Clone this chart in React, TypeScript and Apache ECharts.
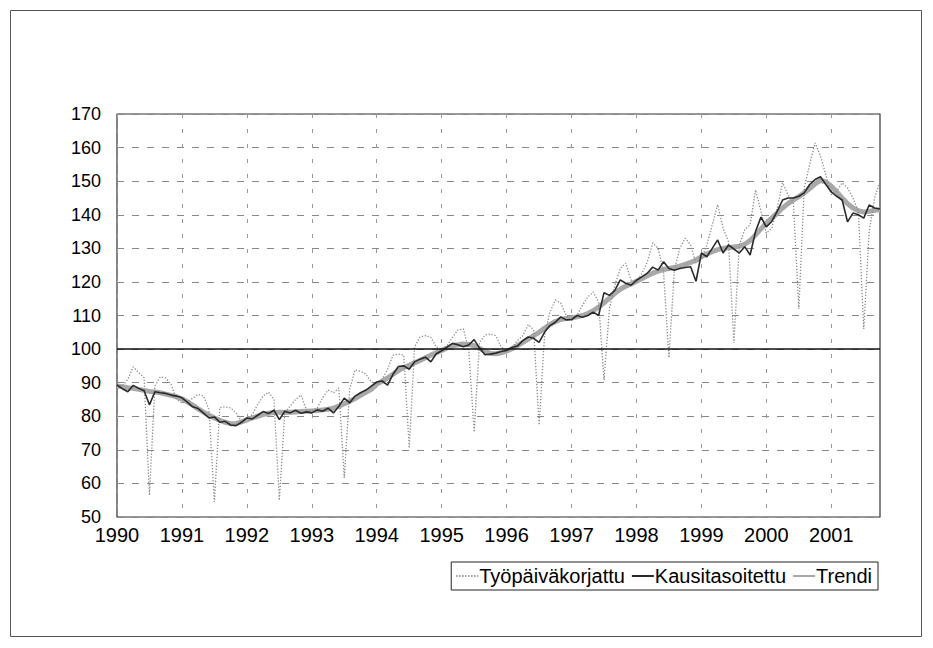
import React, { useEffect, useRef } from "react";
import * as echarts from "echarts";

const years = ["1990","1991","1992","1993","1994","1995","1996","1997","1998","1999","2000","2001"];
const months = ["01","02","03","04","05","06","07","08","09","10","11","12"];
const categories: string[] = [];
years.forEach((y) => months.forEach((m) => categories.push(y + "-" + m)));
categories.splice(142);

const yTicks = [50, 170, 10];

const tyopaiva = [
  89.3, 89.0, 91.0, 94.7, 93.0, 91.5, 56.5, 89.0, 91.7, 91.4, 89.5, 85.0,
  84.0, 84.3, 85.4, 86.5, 86.0, 82.0, 54.5, 82.6, 82.8, 82.5, 81.0, 78.5,
  79.5, 80.5, 83.5, 86.0, 87.2, 85.0, 55.0, 81.0, 83.0, 85.0, 86.3, 82.0,
  81.5, 82.5, 85.5, 87.8, 87.0, 88.4, 61.6, 88.0, 93.8, 93.4, 92.5, 90.2,
  89.5, 91.0, 94.0, 98.2, 98.5, 98.2, 70.5, 100.6, 103.6, 104.0, 103.5, 100.6,
  100.0, 101.0, 103.5, 105.7, 106.0, 100.0, 75.3, 102.0, 104.2, 104.5, 104.0, 100.6,
  99.5, 100.5, 102.5, 104.0, 107.3, 105.7, 77.4, 104.0, 111.0, 114.6, 113.7, 110.0,
  108.5, 110.0, 113.0, 115.5, 117.0, 114.0, 90.8, 112.0, 119.0, 124.0, 125.6, 120.5,
  120.0, 122.5, 126.0, 131.6, 130.0, 123.0, 97.4, 123.5, 130.0, 133.0, 131.0, 125.6,
  127.0, 131.0, 137.0, 143.0, 136.0, 132.0, 101.8, 131.0, 135.5, 137.0, 147.4, 141.0,
  134.5, 136.0, 142.0, 149.5, 146.0, 143.5, 112.0, 148.0, 155.0, 161.4, 157.5, 151.8,
  146.0, 147.0, 149.5, 148.0, 145.0, 141.0, 106.0, 135.0, 145.0, 149.8,
];

const kausi = [
  89.3, 88.2, 87.3, 89.2, 88.3, 87.6, 83.4, 87.3, 87.0, 86.8, 86.3, 86.0,
  85.5, 84.2, 82.8, 82.3, 80.9, 79.5, 79.8, 78.2, 78.5, 77.4, 77.2, 78.2,
  79.5, 79.2, 80.3, 81.4, 80.8, 81.8, 79.0, 81.5, 81.0, 81.8, 80.9, 81.3,
  81.0, 81.9, 81.5, 82.4, 81.0, 83.0, 85.4, 84.0, 86.0, 87.0, 87.8, 89.0,
  90.2, 90.5, 89.3, 92.5, 94.8, 95.0, 94.0, 96.2, 97.0, 97.6, 96.2, 98.6,
  99.5, 100.6, 101.7, 101.3, 100.7, 101.2, 102.8, 100.3, 98.3, 98.5, 98.8, 99.3,
  99.6, 100.5, 100.9, 102.5, 103.6, 103.2, 102.0, 105.0, 107.0, 108.0, 109.6, 108.7,
  108.8, 110.0, 109.5, 110.0, 111.0, 110.0, 116.8, 116.0, 117.5, 120.6, 119.6, 119.0,
  120.5, 121.5, 122.6, 124.4, 123.5, 126.0, 124.0, 123.5, 124.0, 124.3, 124.5, 120.2,
  128.6, 127.5, 130.0, 132.5, 128.6, 131.0, 129.8, 128.6, 130.5, 128.0, 135.0, 139.3,
  136.4, 138.0, 141.0, 144.4, 145.0, 145.0, 145.5, 146.5, 149.0, 150.5, 151.3, 149.0,
  146.8, 145.5, 144.4, 137.9, 140.5, 140.0, 139.0, 142.9, 142.0, 141.7,
];

const trendi = [
  89.0, 88.8, 88.5, 88.3, 88.0, 87.7, 87.4, 87.2, 87.0, 86.6, 86.2, 85.8,
  85.2, 84.3, 83.3, 82.2, 81.2, 80.3, 79.5, 78.8, 78.2, 77.8, 77.8, 78.3,
  78.9, 79.5, 80.0, 80.5, 80.9, 81.1, 81.2, 81.2, 81.2, 81.3, 81.4, 81.5,
  81.6, 81.7, 81.9, 82.1, 82.4, 83.0, 83.7, 84.5, 85.3, 86.2, 87.1, 88.0,
  89.6, 90.4, 91.4, 92.5, 93.6, 94.5, 95.2, 95.9, 96.6, 97.4, 98.2, 98.9,
  99.6, 100.3, 101.0, 101.3, 101.5, 101.4, 101.0, 100.2, 99.3, 98.7, 98.6, 98.9,
  99.4, 100.1, 101.0, 102.0, 103.0, 104.0, 105.0, 106.2, 107.3, 108.2, 108.8, 109.1,
  109.3, 109.6, 110.0, 110.6, 111.4, 112.5, 113.8, 115.2, 116.6, 117.8, 118.7, 119.4,
  120.2, 121.0, 121.8, 122.6, 123.2, 123.7, 124.0, 124.3, 124.7, 125.2, 125.8, 126.5,
  127.5, 128.3, 129.0, 129.6, 130.0, 130.2, 130.4, 130.6, 131.2, 132.3, 134.0, 135.8,
  137.5, 139.0, 140.5, 142.0, 143.3, 144.4, 145.4, 146.5, 147.8, 149.2, 150.2, 149.8,
  148.5, 146.8, 145.0, 143.3, 142.0, 141.2, 140.8, 141.0, 141.3, 141.5,
];

const referenceLine = 100;
const seriesNames = ["Työpäiväkorjattu", "Kausitasoitettu", "Trendi"];

const FONT = "'Liberation Sans', Arial, sans-serif";

export default function App() {
  const ref = useRef<HTMLDivElement>(null);
  useEffect(() => {
    if (!ref.current) return;
    const chart = echarts.init(ref.current, null, { renderer: "svg" });
    const yearStart = (idx: number) => idx % 12 === 0;
    chart.setOption({
      animation: false,
      backgroundColor: "#ffffff",
      textStyle: { fontFamily: FONT, color: "#000" },
      graphic: [
        {
          type: "rect",
          shape: { x: 10.5, y: 10.5, width: 911, height: 626 },
          style: { fill: "none", stroke: "#555", lineWidth: 1 },
          silent: true,
        },
      ],
      grid: {
        left: 117,
        top: 114,
        right: 53,
        bottom: 131,
        show: true,
        borderColor: "#333",
        borderWidth: 1.2,
        containLabel: false,
      },
      legend: {
        data: seriesNames,
        right: 55,
        top: 562,
        orient: "horizontal",
        borderColor: "#222",
        borderWidth: 1,
        padding: [4, 6, 4, 4],
        itemGap: 6,
        itemWidth: 22,
        itemHeight: 10,
        itemStyle: { opacity: 0 },
        textStyle: { fontFamily: FONT, fontSize: 20, color: "#000", padding: [0, 0, 0, -4] },
      },
      xAxis: {
        type: "category",
        data: categories,
        boundaryGap: false,
        axisLine: { show: false },
        axisTick: { show: false },
        axisLabel: {
          interval: (idx: number) => yearStart(idx),
          formatter: (v: string) => v.slice(0, 4),
          fontFamily: FONT,
          fontSize: 20,
          color: "#000",
          margin: 8,
        },
        splitLine: {
          show: true,
          interval: (idx: number) => yearStart(idx),
          lineStyle: { color: "#999", type: [4, 11], width: 1 },
        },
      },
      yAxis: {
        type: "value",
        min: yTicks[0],
        max: yTicks[1],
        interval: yTicks[2],
        axisLine: { show: false },
        axisTick: { show: false },
        axisLabel: { fontFamily: FONT, fontSize: 18, color: "#000", margin: 16 },
        splitLine: { show: true, lineStyle: { color: "#888", type: [7, 8], width: 1 } },
      },
      series: [
        {
          name: seriesNames[0],
          type: "line",
          data: tyopaiva,
          symbol: "none",
          z: 3,
          lineStyle: { color: "#8c8c8c", width: 1.3, type: [1.3, 1.7] },
          itemStyle: { color: "#8c8c8c" },
        },
        {
          name: seriesNames[1],
          type: "line",
          data: kausi,
          symbol: "none",
          z: 4,
          lineStyle: { color: "#2a2a2a", width: 1.6 },
          itemStyle: { color: "#2a2a2a" },
          markLine: {
            silent: true,
            symbol: "none",
            label: { show: false },
            lineStyle: { color: "#111", width: 1.5, type: "solid" },
            data: [{ yAxis: referenceLine }],
          },
        },
        {
          name: seriesNames[2],
          type: "line",
          data: trendi,
          symbol: "none",
          z: 2,
          lineStyle: { color: "#a8a8a8", width: 5 },
          itemStyle: { color: "#a8a8a8" },
        },
      ],
    });
    return () => chart.dispose();
  }, []);
  return (
    <div
      ref={ref}
      style={{ position: "absolute", left: 0, top: 0, width: 933, height: 648 }}
    />
  );
}
